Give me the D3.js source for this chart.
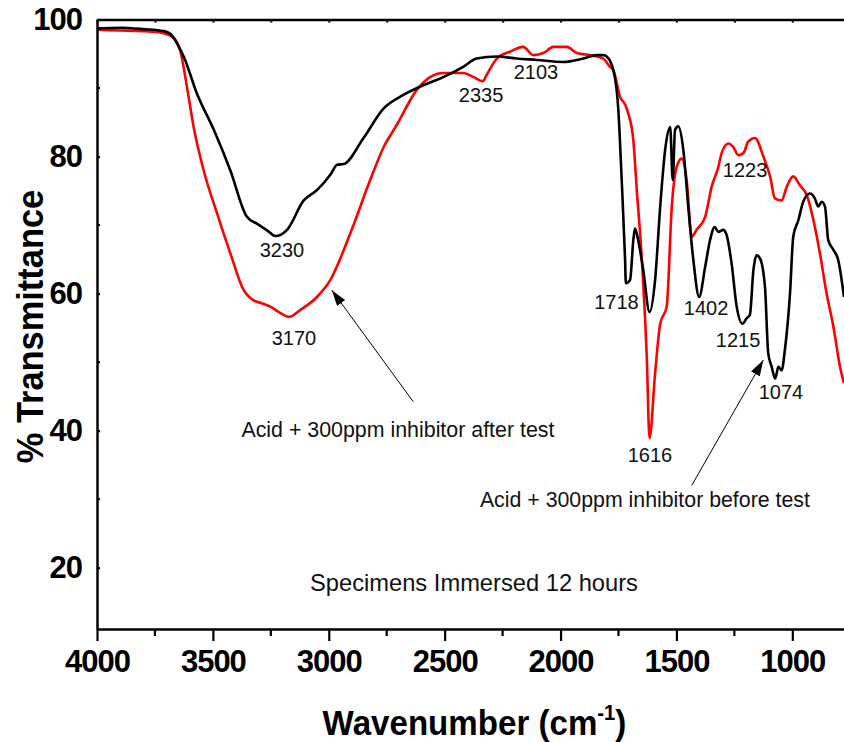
<!DOCTYPE html>
<html>
<head>
<meta charset="utf-8">
<script src="https://cdn.jsdelivr.net/npm/d3@7"></script>
<style>
  body { margin: 0; background: #fff; }
  svg { display: block; font-family: "Liberation Sans", Arial, sans-serif; }
</style>
</head>
<body>
<div id="chart"></div>
<script>
// FTIR spectra, [wavenumber cm-1, % transmittance]
const beforeTest = [
  [4000, 98.7], [3900, 98.8], [3800, 98.6], [3712, 98.3], [3675, 97.6], [3650, 96.2],
  [3626, 94.6], [3569, 89.2], [3496, 83.9], [3425, 78.0], [3353, 71.2], [3310, 70.2],
  [3265, 69.2], [3230, 68.4], [3180, 69.3], [3108, 73.6], [3051, 75.1], [2990, 77.5],
  [2964, 78.8], [2936, 78.9], [2850, 82.7], [2764, 87.0], [2678, 89.0], [2592, 90.4],
  [2506, 91.6], [2420, 93.1], [2362, 94.3], [2275, 94.6], [2189, 94.3], [2103, 94.1],
  [1988, 93.8], [1902, 94.3], [1844, 94.8], [1815, 94.8], [1801, 94.6], [1772, 92.6],
  [1751, 87.0], [1736, 76.5], [1722, 65.4], [1718, 61.5], [1700, 62.0], [1686, 67.8],
  [1679, 69.5], [1665, 67.8], [1643, 63.4], [1616, 57.3], [1592, 62.0], [1570, 72.7],
  [1549, 80.9], [1527, 84.3], [1516, 76.6], [1506, 83.9], [1492, 84.4], [1470, 80.9],
  [1449, 72.7], [1427, 64.9], [1402, 59.5], [1376, 63.9], [1355, 67.8], [1335, 69.7],
  [1319, 69.0], [1298, 69.3], [1283, 68.5], [1262, 64.4], [1240, 58.1], [1215, 55.6],
  [1197, 56.4], [1183, 56.9], [1168, 63.4], [1154, 65.6], [1139, 65.1], [1118, 61.0],
  [1104, 51.3], [1089, 49.3], [1074, 47.6], [1060, 49.3], [1046, 48.8], [1032, 51.8],
  [1010, 60.0], [996, 68.3], [974, 70.7], [953, 73.4], [924, 74.6], [903, 73.9],
  [888, 72.7], [873, 73.4], [859, 72.7], [845, 67.8], [823, 66.4], [802, 64.9], [777, 59.5]
];

const afterTest = [
  [4000, 98.5], [3900, 98.4], [3800, 98.3], [3712, 98.0], [3669, 97.3], [3641, 95.5],
  [3612, 90.2], [3583, 84.3], [3540, 78.0], [3482, 71.7], [3425, 65.9], [3367, 60.5],
  [3324, 59.0], [3290, 58.6], [3252, 58.1], [3210, 57.2], [3170, 56.6], [3123, 57.6],
  [3051, 59.5], [2993, 62.0], [2907, 68.8], [2821, 76.6], [2763, 81.4], [2707, 84.6],
  [2621, 89.7], [2563, 91.6], [2506, 92.2], [2420, 92.2], [2376, 91.6], [2335, 91.0],
  [2319, 91.9], [2275, 94.3], [2218, 95.3], [2161, 96.0], [2117, 94.8], [2074, 95.1],
  [2031, 96.0], [1973, 96.0], [1930, 95.1], [1873, 94.8], [1816, 94.3], [1787, 93.1],
  [1772, 92.6], [1743, 88.7], [1720, 87.5], [1708, 86.3], [1686, 82.4], [1671, 75.1],
  [1650, 65.4], [1628, 50.8], [1616, 38.9], [1592, 48.4], [1570, 55.6], [1542, 58.1],
  [1520, 72.7], [1499, 78.5], [1477, 79.7], [1456, 76.6], [1434, 68.3], [1413, 69.3],
  [1376, 71.2], [1348, 75.6], [1319, 78.5], [1305, 80.5], [1276, 81.9], [1255, 81.4],
  [1233, 80.2], [1211, 80.5], [1190, 82.2], [1161, 82.7], [1125, 80.0], [1096, 77.1],
  [1075, 73.9], [1046, 73.6], [1024, 75.6], [996, 77.1], [967, 75.8], [938, 74.4],
  [903, 69.8], [881, 65.9], [852, 60.0], [823, 55.2], [794, 49.3], [777, 46.9]
];

const xTickValues = [4000, 3500, 3000, 2500, 2000, 1500, 1000];
const xMinorValues = [3750, 3250, 2750, 2250, 1750, 1250];
const yTickValues = [20, 40, 60, 80, 100];
const yMinorValues = [30, 50, 70, 90];

// peak labels anchored in data units [text, wavenumber, %T]
const peakLabels = [
  ['3230', 3202, 65.3], ['3170', 3150, 52.5], ['2335', 2343, 88.0], ['2103', 2106, 91.3],
  ['1718', 1759, 57.8], ['1616', 1614, 35.4], ['1402', 1372, 56.9], ['1215', 1234, 52.2],
  ['1074', 1049, 44.6], ['1223', 1204, 77.0]
];

const width = 844, height = 742;
const plot = { left: 97, right: 844, top: 19.5, bottom: 629 };

const x = d3.scaleLinear().domain([4000, 777]).range([plot.left, plot.right]);
const y = d3.scaleLinear().domain([11.05, 100]).range([plot.bottom, plot.top]);

const svg = d3.select('#chart').append('svg')
  .attr('width', width)
  .attr('height', height);

svg.append('defs').append('clipPath').attr('id', 'clip')
  .append('rect')
  .attr('x', plot.left).attr('y', plot.top)
  .attr('width', plot.right - plot.left).attr('height', plot.bottom - plot.top);

const marker = svg.select('defs').append('marker')
  .attr('id', 'arrow')
  .attr('markerUnits', 'userSpaceOnUse')
  .attr('markerWidth', 16).attr('markerHeight', 10)
  .attr('refX', 16).attr('refY', 5)
  .attr('orient', 'auto');
marker.append('path').attr('d', 'M0,0 L16,5 L0,10 Z').attr('fill', '#000');

// spectra (red first so black sits on top)
const line = d3.line()
  .x(d => x(d[0]))
  .y(d => y(d[1]))
  .curve(d3.curveMonotoneX);

const curves = svg.append('g').attr('clip-path', 'url(#clip)');
curves.append('path').datum(afterTest)
  .attr('d', line).attr('fill', 'none')
  .attr('stroke', '#ff0000').attr('stroke-width', 2.6).attr('stroke-linejoin', 'round');
curves.append('path').datum(beforeTest)
  .attr('d', line).attr('fill', 'none')
  .attr('stroke', '#000').attr('stroke-width', 2.6).attr('stroke-linejoin', 'round');

// bottom axis
const xAxis = d3.axisBottom(x).tickValues(xTickValues).tickFormat(d3.format('d'))
  .tickSize(12).tickSizeOuter(0).tickPadding(9);
const xg = svg.append('g').attr('transform', `translate(0,${plot.bottom})`).call(xAxis);
xg.append('g').selectAll('line').data(xMinorValues).join('line')
  .attr('x1', d => x(d)).attr('x2', d => x(d)).attr('y1', 0).attr('y2', 7)
  .attr('stroke', '#000').attr('stroke-width', 2.2);

// left axis (small inward ticks)
const yAxis = d3.axisLeft(y).tickValues(yTickValues).tickFormat(d3.format('d'))
  .tickSize(-3).tickSizeOuter(0).tickPadding(15);
const yg = svg.append('g').attr('transform', `translate(${plot.left},0)`).call(yAxis);
yg.append('g').selectAll('line').data(yMinorValues).join('line')
  .attr('x1', 0).attr('x2', 3).attr('y1', d => y(d)).attr('y2', d => y(d))
  .attr('stroke', '#000').attr('stroke-width', 2);

// top frame line with tiny ticks
const topAxis = d3.axisBottom(x).tickValues(xTickValues.concat(xMinorValues))
  .tickSize(3).tickSizeOuter(0).tickFormat('');
svg.append('g').attr('transform', `translate(0,${plot.top})`).call(topAxis);

svg.selectAll('.domain').attr('stroke', '#000').attr('stroke-width', 2.5);
svg.selectAll('.tick line').attr('stroke', '#000').attr('stroke-width', 2.2);
svg.selectAll('.tick text')
  .attr('font-family', '"Liberation Sans", Arial, sans-serif')
  .attr('font-size', 31).attr('font-weight', 'bold').attr('fill', '#000')
  .attr('letter-spacing', -1);

// axis titles
svg.append('text')
  .attr('transform', `translate(474.5,735) scale(0.92,1)`)
  .attr('text-anchor', 'middle')
  .attr('font-size', 36).attr('font-weight', 'bold')
  .call(t => {
    t.append('tspan').text('Wavenumber (cm');
    t.append('tspan').attr('font-size', 22).attr('dy', -15).text('-1');
    t.append('tspan').attr('dy', 15).text(')');
  });

svg.append('text')
  .attr('transform', `translate(43,326.5) rotate(-90) scale(0.93,1)`)
  .attr('text-anchor', 'middle')
  .attr('font-size', 37).attr('font-weight', 'bold')
  .text('% Transmittance');

// peak labels
svg.append('g').selectAll('text').data(peakLabels).join('text')
  .attr('x', d => x(d[1])).attr('y', d => y(d[2]))
  .attr('text-anchor', 'middle')
  .attr('font-size', 20).attr('fill', '#111')
  .text(d => d[0]);

// descriptive labels and arrows
svg.append('text')
  .attr('x', x(3377)).attr('y', y(39.1))
  .attr('font-size', 22).attr('fill', '#111')
  .attr('textLength', 313).attr('lengthAdjust', 'spacingAndGlyphs')
  .text('Acid + 300ppm inhibitor after test');

svg.append('text')
  .attr('x', x(2348)).attr('y', y(28.8))
  .attr('font-size', 22).attr('fill', '#111')
  .attr('textLength', 330).attr('lengthAdjust', 'spacingAndGlyphs')
  .text('Acid + 300ppm inhibitor before test');

svg.append('text')
  .attr('x', x(3081)).attr('y', y(16.6))
  .attr('font-size', 24).attr('fill', '#111')
  .attr('textLength', 328).attr('lengthAdjust', 'spacingAndGlyphs')
  .text('Specimens Immersed 12 hours');

const arrows = [
  [[2635, 44.2], [2987, 60.5]],
  [[1434, 32.0], [1125, 50.3]]
];
svg.append('g').selectAll('line').data(arrows).join('line')
  .attr('x1', d => x(d[0][0])).attr('y1', d => y(d[0][1]))
  .attr('x2', d => x(d[1][0])).attr('y2', d => y(d[1][1]))
  .attr('stroke', '#000').attr('stroke-width', 1)
  .attr('marker-end', 'url(#arrow)');
</script>
</body>
</html>
